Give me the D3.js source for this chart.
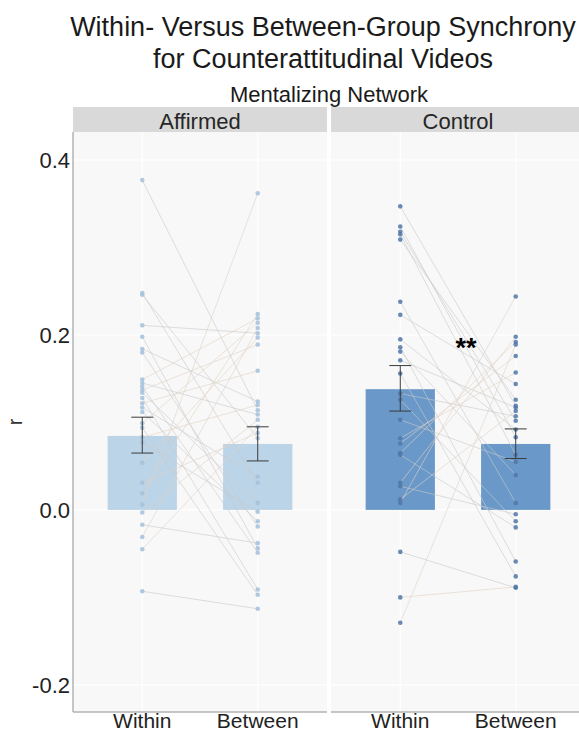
<!DOCTYPE html>
<html>
<head>
<meta charset="utf-8">
<script src="https://cdn.jsdelivr.net/npm/d3@7"></script>
<style>
  html, body { margin: 0; padding: 0; background: #ffffff; }
  svg { display: block; }
  text { font-family: "Liberation Sans", Arial, Helvetica, sans-serif; fill: #1a1a1a; }
</style>
</head>
<body>
<svg id="chart" width="579" height="731"></svg>
<script>
// Conditions (facets) and comparison categories
const conditions = ["Affirmed", "Control"];
const comparisons = ["Within", "Between"];
const yTicks = [-0.2, 0.0, 0.2, 0.4];
const yTickLabels = ["-0.2", "0.0", "0.2", "0.4"];

// Group means and standard-error bounds for each condition
const affirmedMeans = [0.0846, 0.0754];
const affirmedLower = [0.065, 0.056];
const affirmedUpper = [0.106, 0.095];
const controlMeans = [0.138, 0.0754];
const controlLower = [0.113, 0.0587];
const controlUpper = [0.165, 0.0926];

// Per-participant synchrony (same index = same participant)
const affirmedWithin  = [0.377, 0.248, 0.246, 0.211, 0.198, 0.184, 0.180, 0.149, 0.145, 0.141,
                         0.137, 0.134, 0.128, 0.122, 0.117, 0.112, 0.099, 0.094, 0.083, 0.077,
                         0.054, 0.031, 0.019, 0.006, -0.003, -0.017, -0.031, -0.045, -0.093];
const affirmedBetween = [0.114, 0.031, 0.082, 0.202, -0.044, 0.124, -0.019, 0.219, 0.109, -0.049,
                         0.189, 0.008, -0.091, 0.159, 0.038, -0.013, 0.214, -0.097, 0.120, -0.002,
                         0.197, 0.088, 0.224, 0.362, 0.103, -0.038, 0.208, 0.095, -0.113];
const controlWithin   = [0.347, 0.324, 0.318, 0.315, 0.309, 0.238, 0.223, 0.195, 0.186, 0.181,
                         0.171, 0.156, 0.133, 0.126, 0.103, 0.082, 0.076, 0.065, 0.063, 0.031,
                         0.027, 0.012, 0.008, -0.048, -0.100, -0.129];
const controlBetween  = [0.119, 0.083, 0.102, 0.063, 0.126, 0.008, 0.144, 0.092, -0.059, 0.040,
                         0.117, -0.076, 0.107, -0.013, 0.055, 0.157, 0.176, 0.192, -0.020, 0.198,
                         -0.005, 0.113, 0.244, -0.089, -0.088, 0.189];

const significance = ["", "**"];

const panels = [
  { name: conditions[0], means: affirmedMeans, lo: affirmedLower, hi: affirmedUpper,
    within: affirmedWithin, between: affirmedBetween, sig: significance[0],
    bar: "#bcd4e7", point: "#a3c1dc" },
  { name: conditions[1], means: controlMeans, lo: controlLower, hi: controlUpper,
    within: controlWithin, between: controlBetween, sig: significance[1],
    bar: "#6a99c9", point: "#4f77a8" }
];

const svg = d3.select("#chart");

// Layout
const panelTop = 132, panelBottom = 712;
const panelW = 254, panelGap = 4, panelLeft = 73;
const stripH = 25;

const y = d3.scaleLinear().domain([-0.231, 0.432]).range([panelBottom, panelTop]);
const x = d3.scalePoint().domain(comparisons).range([0, panelW]).padding(0.6);
const barW = x.step() * 0.6;
const capW = x.step() * 0.19;

// Titles
const centerX = panelLeft + (2 * panelW + panelGap) / 2;
const titleX = 323;
svg.append("text").attr("x", titleX).attr("y", 36).attr("text-anchor", "middle")
  .style("font-size", "27px").text("Within- Versus Between-Group Synchrony");
svg.append("text").attr("x", titleX).attr("y", 68).attr("text-anchor", "middle")
  .style("font-size", "27px").text("for Counterattitudinal Videos");
svg.append("text").attr("x", centerX).attr("y", 102).attr("text-anchor", "middle")
  .style("font-size", "22px").text("Mentalizing Network");

// Y axis title
svg.append("text")
  .attr("transform", `translate(22,${(panelTop + panelBottom) / 2}) rotate(-90)`)
  .attr("text-anchor", "middle")
  .style("font-size", "20px").style("fill", "#333")
  .text("r");

// Y tick labels
svg.append("g").selectAll("text").data(yTicks).join("text")
  .attr("x", 70).attr("y", d => y(d)).attr("dy", "0.36em")
  .attr("text-anchor", "end").style("font-size", "22px").style("fill", "#222")
  .text((d, k) => yTickLabels[k]);

panels.forEach((p, i) => {
  const x0 = panelLeft + i * (panelW + panelGap);
  const g = svg.append("g").attr("transform", `translate(${x0},0)`);

  // strip
  g.append("rect").attr("x", 0).attr("y", panelTop - stripH).attr("width", panelW).attr("height", stripH)
    .attr("fill", "#d9d9d9");
  g.append("text").attr("x", panelW / 2).attr("y", panelTop - 3.5).attr("text-anchor", "middle")
    .style("font-size", "22px").style("fill", "#262626").text(p.name);

  // panel background
  g.append("rect").attr("x", 0).attr("y", panelTop).attr("width", panelW).attr("height", panelBottom - panelTop)
    .attr("fill", "#f8f8f8");

  // grid lines
  g.append("g").selectAll("line").data(yTicks).join("line")
    .attr("x1", 0).attr("x2", panelW).attr("y1", d => y(d)).attr("y2", d => y(d))
    .attr("stroke", "#ffffff").attr("stroke-width", 1.2);
  g.append("g").selectAll("line").data(comparisons).join("line")
    .attr("x1", d => x(d)).attr("x2", d => x(d)).attr("y1", panelTop).attr("y2", panelBottom)
    .attr("stroke", "#ffffff").attr("stroke-width", 1.2);

  // bars
  g.append("g").selectAll("rect").data(comparisons).join("rect")
    .attr("x", d => x(d) - barW / 2)
    .attr("width", barW)
    .attr("y", (d, k) => y(Math.max(0, p.means[k])))
    .attr("height", (d, k) => Math.abs(y(p.means[k]) - y(0)))
    .attr("fill", p.bar);

  // paired participant lines
  const pairs = p.within.map((w, k) => ({ w, b: p.between[k] }));
  g.append("g").selectAll("line").data(pairs).join("line")
    .attr("x1", x("Within")).attr("x2", x("Between"))
    .attr("y1", d => y(d.w)).attr("y2", d => y(d.b))
    .attr("stroke", d => d.b > d.w ? "#e0d2c2" : "#c9c9c9")
    .attr("stroke-opacity", 0.75)
    .attr("stroke-width", 0.8);

  // participant points
  const pts = [];
  p.within.forEach(v => pts.push({ c: "Within", v }));
  p.between.forEach(v => pts.push({ c: "Between", v }));
  g.append("g").selectAll("circle").data(pts).join("circle")
    .attr("cx", d => x(d.c)).attr("cy", d => y(d.v)).attr("r", 2.3)
    .attr("fill", p.point).attr("fill-opacity", 0.85);

  // error bars
  const eb = g.append("g").attr("stroke", "#3a3a3a").attr("stroke-width", 1).attr("fill", "none");
  comparisons.forEach((c, k) => {
    const cx = x(c);
    eb.append("line").attr("x1", cx).attr("x2", cx).attr("y1", y(p.lo[k])).attr("y2", y(p.hi[k]));
    eb.append("line").attr("x1", cx - capW / 2).attr("x2", cx + capW / 2).attr("y1", y(p.lo[k])).attr("y2", y(p.lo[k]));
    eb.append("line").attr("x1", cx - capW / 2).attr("x2", cx + capW / 2).attr("y1", y(p.hi[k])).attr("y2", y(p.hi[k]));
  });

  // significance marker, set slightly right of the gap between the two bars
  if (p.sig) {
    g.append("text").attr("x", (x("Within") + x("Between")) / 2 + 8).attr("y", 357)
      .attr("text-anchor", "middle").style("font-size", "27px").style("font-weight", "bold")
      .style("fill", "#000").text(p.sig);
  }

  // bottom axis line
  g.append("line").attr("x1", 0).attr("x2", panelW).attr("y1", panelBottom).attr("y2", panelBottom)
    .attr("stroke", "#b3b3b3").attr("stroke-width", 1.5);

  // x labels
  g.append("g").selectAll("text").data(comparisons).join("text")
    .attr("x", d => x(d)).attr("y", 728).attr("text-anchor", "middle")
    .style("font-size", "21px").style("fill", "#222").text(d => d);
});

// left axis line
svg.append("line").attr("x1", panelLeft).attr("x2", panelLeft).attr("y1", panelTop).attr("y2", panelBottom)
  .attr("stroke", "#b3b3b3").attr("stroke-width", 1.5);
</script>
</body>
</html>
